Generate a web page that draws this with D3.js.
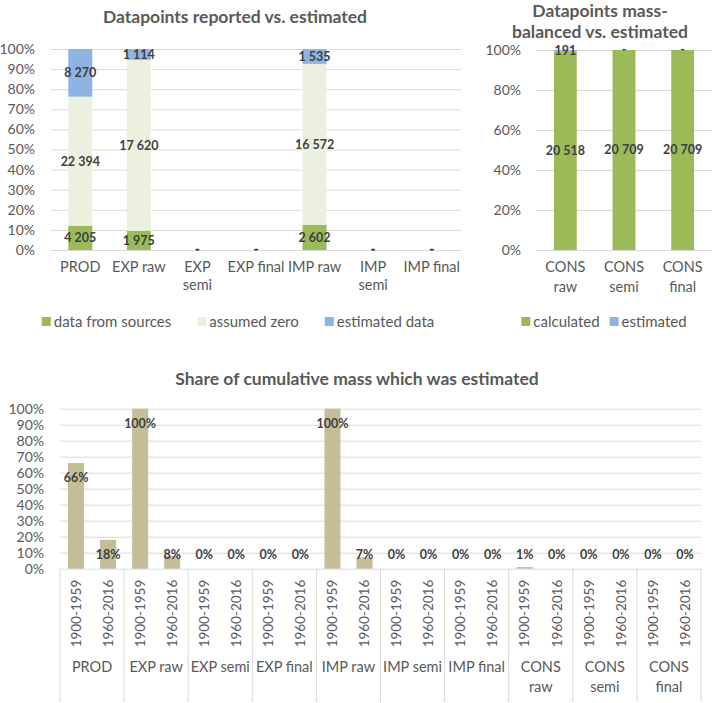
<!DOCTYPE html>
<html>
<head>
<meta charset="utf-8">
<script src="https://cdn.jsdelivr.net/npm/d3@7"></script>
<style>
body { margin: 0; background: #fff; }
text { font-family: Lato, sans-serif; }
</style>
</head>
<body>
<svg width="714" height="703"></svg>
<script>
// chart 1 - datapoints reported vs. estimated
var cats1 = ["PROD", "EXP raw", "EXP\nsemi", "EXP final", "IMP raw", "IMP\nsemi", "IMP final"];
var fromSources = [4205, 1975, 0, 0, 2602, 0, 0];
var assumedZero = [22394, 17620, 0, 0, 16572, 0, 0];
var estimatedData = [8270, 1114, 0, 0, 1535, 0, 0];
var series1 = ["data from sources", "assumed zero", "estimated data"];
var ticks1 = [0, 0.1, 0.2, 0.3, 0.4, 0.5, 0.6, 0.7, 0.8, 0.9, 1];

// chart 2 - mass-balanced vs. estimated
var cats2 = ["CONS\nraw", "CONS\nsemi", "CONS\nfinal"];
var calculated = [20518, 20709, 20709];
var estimated2 = [191, 0, 0];
var series2 = ["calculated", "estimated"];
var ticks2 = [0, 0.2, 0.4, 0.6, 0.8, 1];

// chart 3 - share of cumulative mass estimated
var groups3 = ["PROD", "EXP raw", "EXP semi", "EXP final", "IMP raw", "IMP semi", "IMP final", "CONS\nraw", "CONS\nsemi", "CONS\nfinal"];
var periods = ["1900-1959", "1960-2016"];
var share1900 = [0.66, 1, 0, 0, 1, 0, 0, 0.01, 0, 0];
var share1960 = [0.18, 0.08, 0, 0, 0.07, 0, 0, 0, 0, 0];

var green = "#9bbb59", pale = "#ebf1de", blue = "#8db4e2", tan = "#c4bd97";
var grid = "#d9d9d9", txt = "#595959", lab = "#404040";

var fmt = d3.formatLocale({decimal: ".", thousands: " ", grouping: [3], currency: ["", ""]}).format(",d");
var pct = d3.format(".0%");

var svg = d3.select("svg");

function lines(sel, str, lh) {
	var parts = str.split("\n");
	parts.forEach(function (p, i) {
		sel.append("tspan").attr("x", sel.attr("x")).attr("dy", i ? lh : 0).text(p);
	});
}

function yAxis(g, y, ticks, left, right, pad) {
	var ax = g.append("g")
		.attr("transform", "translate(" + left + ",0)")
		.call(d3.axisLeft(y).tickValues(ticks).tickFormat(pct).tickSize(-(right - left)).tickPadding(pad));
	ax.select(".domain").remove();
	ax.selectAll("line").attr("stroke", grid);
	ax.selectAll("text").attr("fill", txt).style("font-size", "14px").style("font-family", "Lato");
}

function legend(names, colors, cx, y, gap) {
	var g = svg.append("g");
	var items = g.selectAll("g").data(names).enter().append("g");
	items.append("rect").attr("width", 9).attr("height", 9).attr("y", y - 5)
		.attr("fill", (d, i) => colors[i]);
	items.append("text").attr("x", 12).attr("y", y).attr("dy", "0.35em")
		.style("font-size", "15px").attr("fill", txt).text(d => d);
	var x = 0;
	items.each(function () {
		d3.select(this).attr("transform", "translate(" + x + ",0)");
		x += this.getBBox().width + gap;
	});
	x -= gap;
	g.attr("transform", "translate(" + (cx - x / 2) + ",0)");
}

function stacked(cfg) {
	var g = svg.append("g");
	var x = d3.scaleBand().domain(cfg.cats).range([cfg.left, cfg.right]);
	var y = d3.scaleLinear().domain([0, 1]).range([cfg.bottom, cfg.top]);
	var rows = cfg.cats.map(function (c, i) {
		var r = {cat: c};
		cfg.keys.forEach(function (k, j) { r[k] = cfg.values[j][i]; });
		return r;
	});
	var stack = d3.stack().keys(cfg.keys).offset(d3.stackOffsetExpand)(rows);

	yAxis(g, y, cfg.ticks, cfg.left, cfg.right, cfg.pad);

	var bw = x.bandwidth() * cfg.frac;
	g.selectAll("g.s").data(stack).enter().append("g").attr("class", "s")
		.attr("fill", (d, i) => cfg.colors[i])
		.selectAll("rect").data(d => d).enter().append("rect")
		.attr("x", d => x(d.data.cat) + (x.bandwidth() - bw) / 2)
		.attr("width", bw)
		.attr("y", d => y(d[1]))
		.attr("height", d => y(d[0]) - y(d[1]));

	stack.forEach(function (s) {
		g.append("g").selectAll("text").data(s).enter().append("text")
			.attr("x", d => x(d.data.cat) + x.bandwidth() / 2)
			.attr("y", d => y((d[0] + d[1]) / 2))
			.attr("dy", "0.35em")
			.attr("text-anchor", "middle")
			.style("font-size", "12.5px").style("font-weight", "bold")
			.attr("fill", lab)
			.text(d => d.data[s.key] === 0 ? "-" : fmt(d.data[s.key]));
	});

	g.selectAll("text.cat").data(cfg.cats).enter().append("text").attr("class", "cat")
		.attr("x", d => x(d) + x.bandwidth() / 2)
		.attr("y", cfg.bottom + 22)
		.attr("dy", "0.35em")
		.attr("text-anchor", "middle")
		.style("font-size", "14.5px").attr("fill", txt)
		.each(function (d) { lines(d3.select(this), d, cfg.lh); });

	var t = g.append("text").attr("x", cfg.titleX).attr("y", cfg.titleY)
		.attr("text-anchor", "middle").style("font-size", "17.5px").style("font-weight", "bold")
		.attr("fill", txt);
	lines(t, cfg.title, 21);
}

stacked({
	cats: cats1, keys: series1, values: [fromSources, assumedZero, estimatedData],
	colors: [green, pale, blue], ticks: ticks1,
	left: 51, right: 461, top: 49, bottom: 250, pad: 16, frac: 0.41, lh: 18,
	title: "Datapoints reported vs. estimated", titleX: 235, titleY: 23
});
legend(series1, [green, pale, blue], 238, 322, 26);

stacked({
	cats: cats2, keys: series2, values: [calculated, estimated2],
	colors: [green, blue], ticks: ticks2,
	left: 536, right: 712, top: 50, bottom: 250, pad: 15, frac: 0.39, lh: 20,
	title: "Datapoints mass-\nbalanced vs. estimated", titleX: 600, titleY: 17
});
legend(series2, [green, blue], 604, 322, 10);

// chart 3
var g3 = svg.append("g");
var left3 = 60, right3 = 701, top3 = 408.7, bottom3 = 568.7;
var rows3 = [];
groups3.forEach(function (grp, i) {
	rows3.push({key: grp + "|" + periods[0], grp: grp, p: periods[0], v: share1900[i]});
	rows3.push({key: grp + "|" + periods[1], grp: grp, p: periods[1], v: share1960[i]});
});
var x3 = d3.scaleBand().domain(rows3.map(d => d.key)).range([left3, right3]);
var xg = d3.scaleBand().domain(groups3).range([left3, right3]);
var y3 = d3.scaleLinear().domain([0, 1]).range([bottom3, top3]);

yAxis(g3, y3, ticks1, left3, right3, 16);

var bw3 = x3.bandwidth() * 0.5;
g3.selectAll("rect").data(rows3).enter().append("rect")
	.attr("x", d => x3(d.key) + (x3.bandwidth() - bw3) / 2)
	.attr("width", bw3)
	.attr("y", d => y3(d.v))
	.attr("height", d => bottom3 - y3(d.v))
	.attr("fill", tan);

g3.selectAll("text.v").data(rows3).enter().append("text").attr("class", "v")
	.attr("x", d => x3(d.key) + x3.bandwidth() / 2)
	.attr("y", d => Math.min(y3(d.v) + 15, bottom3 - 14))
	.attr("dy", "0.35em").attr("text-anchor", "middle")
	.style("font-size", "12.5px").style("font-weight", "bold").attr("fill", lab)
	.text(d => pct(d.v));

g3.selectAll("line.sep").data(groups3.map(d => xg(d)).concat([right3])).enter().append("line")
	.attr("class", "sep")
	.attr("x1", d => d).attr("x2", d => d)
	.attr("y1", bottom3).attr("y2", 702)
	.attr("stroke", grid);

g3.selectAll("text.p").data(rows3).enter().append("text").attr("class", "p")
	.attr("transform", d => "translate(" + (x3(d.key) + x3.bandwidth() / 2) + "," + (bottom3 + 11) + ") rotate(-90)")
	.attr("text-anchor", "end").attr("dy", "0.35em")
	.style("font-size", "13.5px").attr("fill", txt)
	.text(d => d.p);

g3.selectAll("text.grp").data(groups3).enter().append("text").attr("class", "grp")
	.attr("x", d => xg(d) + xg.bandwidth() / 2)
	.attr("y", 672).attr("dy", "0.35em").attr("text-anchor", "middle")
	.style("font-size", "14.5px").attr("fill", txt)
	.each(function (d) { lines(d3.select(this), d, 20); });

g3.append("text").attr("x", 357).attr("y", 385).attr("text-anchor", "middle")
	.style("font-size", "17.5px").style("font-weight", "bold").attr("fill", txt)
	.text("Share of cumulative mass which was estimated");
</script>
</body>
</html>
